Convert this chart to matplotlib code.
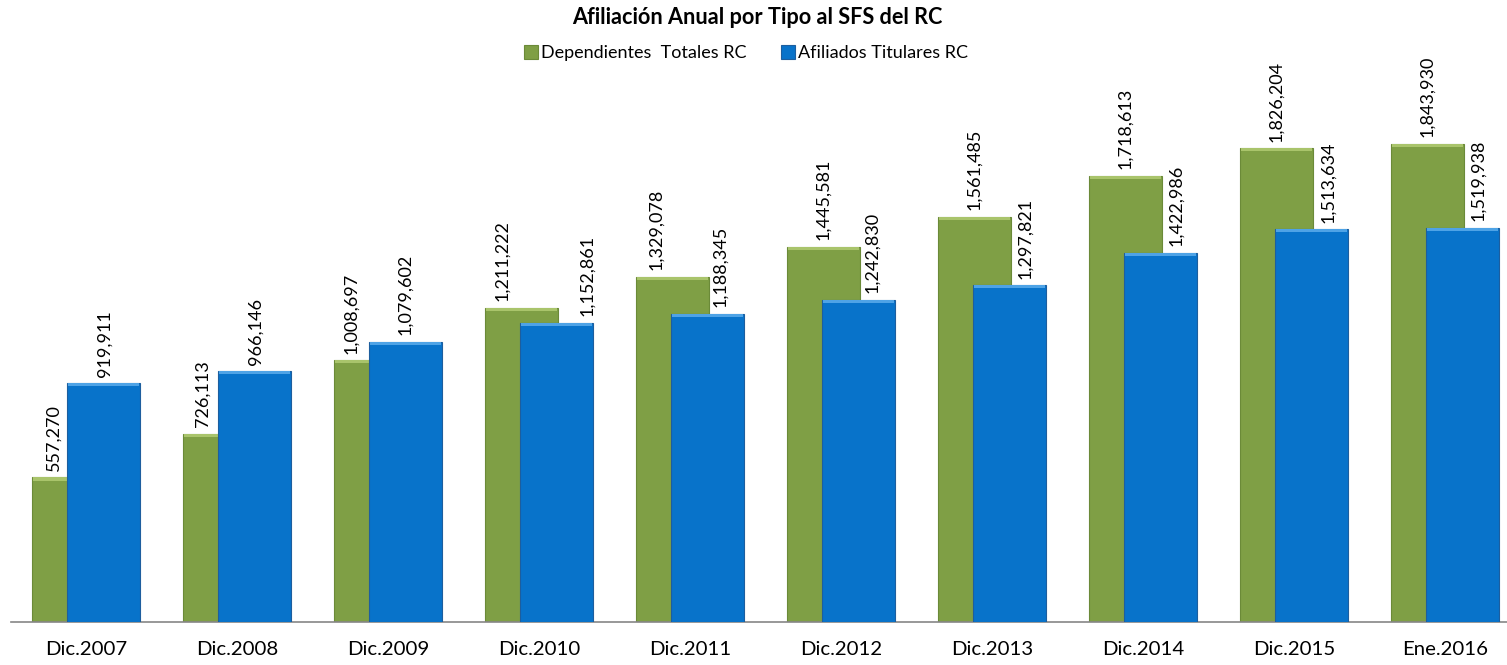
import matplotlib.pyplot as plt
import numpy as np

# data
periodos = ['Dic.2007', 'Dic.2008', 'Dic.2009', 'Dic.2010', 'Dic.2011',
            'Dic.2012', 'Dic.2013', 'Dic.2014', 'Dic.2015', 'Ene.2016']
dependientes = [557270, 726113, 1008697, 1211222, 1329078,
                1445581, 1561485, 1718613, 1826204, 1843930]
titulares = [919911, 966146, 1079602, 1152861, 1188345,
             1242830, 1297821, 1422986, 1513634, 1519938]

# label nudges (in category units) so the rotated labels dodge the other bar
dep_shift = [-0.10, -0.11, -0.13, -0.13, -0.11, 0, 0, 0, 0, 0]
tit_shift = [0.01, 0.01, 0, 0.20, 0.08, 0.09, 0.10, 0.10, 0.11, 0.10]

plt.rcParams['font.family'] = ['Lato', 'DejaVu Sans']

green = '#7F9F45'
blue = '#0873CA'
width = 0.483
off = 0.116

fig = plt.figure(figsize=(15.07, 6.65), dpi=100)
ax = fig.add_axes([11/1507, 43/665, 1 - 11/1507, 537/665])

x = np.arange(len(periodos))
ax.bar(x - off, dependientes, width, color=green, edgecolor='#6B8A38', linewidth=0.8,
       label='Dependientes  Totales RC', zorder=2)
ax.bar(x + off, titulares, width, color=blue, edgecolor='#1D5E9E', linewidth=0.8,
       label='Afiliados Titulares RC', zorder=3)
# light bevel along the bar tops
ax.bar(x - off, [12000] * len(x), width * 0.97, bottom=np.array(dependientes) - 12000,
       color='#A9C46B', linewidth=0, zorder=2.5)
ax.bar(x + off, [12000] * len(x), width * 0.97, bottom=np.array(titulares) - 12000,
       color='#4EA3E6', linewidth=0, zorder=3.5)

for i in range(len(x)):
    ax.text(x[i] - off + dep_shift[i], dependientes[i] + 26000, f'{dependientes[i]:,}',
            rotation=90, ha='center', va='bottom', fontsize=13, zorder=5)
    ax.text(x[i] + off + tit_shift[i], titulares[i] + 26000, f'{titulares[i]:,}',
            rotation=90, ha='center', va='bottom', fontsize=13, zorder=5)

ax.set_xlim(-0.497, 9.41)
ax.set_ylim(0, 2.07e6)
ax.set_xticks(x)
ax.set_xticklabels(periodos, fontsize=14.7)
ax.tick_params(axis='x', length=0, pad=14)
ax.set_yticks([])
for s in ['top', 'right', 'left']:
    ax.spines[s].set_visible(False)
ax.spines['bottom'].set_color('#868686')
ax.spines['bottom'].set_linewidth(1.2)

fig.text(757/1507, 1 - 18/665, 'Afiliación Anual por Tipo al SFS del RC', ha='center', va='center',
         fontsize=15.6, fontweight='bold')
fig.legend(loc='center', bbox_to_anchor=(746/1507, 1 - 53/665), ncol=2, frameon=False,
           fontsize=13, handlelength=0.8, handleheight=0.8, handletextpad=0.15,
           columnspacing=1.9)

plt.savefig('out.png', dpi=100)
plt.close()
